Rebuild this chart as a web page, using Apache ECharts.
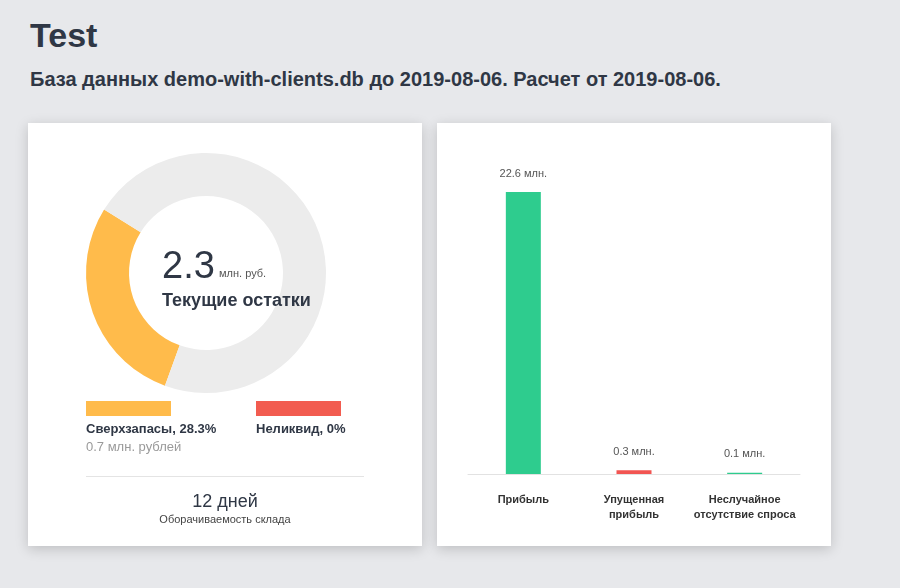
<!DOCTYPE html>
<html>
<head>
<meta charset="utf-8">
<script src="https://cdn.jsdelivr.net/npm/echarts@6/dist/echarts.min.js"></script>
<style>
  body { margin: 0; background: #e7e8eb; font-family: "Liberation Sans", Arial, sans-serif; color: #2f3745; }
  .page { position: relative; width: 900px; height: 588px; overflow: hidden; }
  h1 { position: absolute; left: 30px; top: 18px; margin: 0; font-size: 34px; line-height: 34px; font-weight: bold; }
  h2 { position: absolute; left: 30px; top: 69px; margin: 0; font-size: 20px; line-height: 20px; font-weight: bold; }
  .card { position: absolute; top: 123px; width: 394px; height: 423px; background: #fff; box-shadow: 0 3px 12px rgba(0,0,0,0.18); }
  .chart { position: absolute; left: 0; top: 0; width: 394px; height: 423px; }
  .t { position: absolute; white-space: nowrap; line-height: 1; }
  .swatch { position: absolute; width: 85px; height: 15px; top: 278px; }
  .divider { position: absolute; left: 58px; width: 278px; top: 353px; height: 1px; background: #e4e4e4; }
</style>
</head>
<body>
<div class="page">
  <h1>Test</h1>
  <h2>База данных demo-with-clients.db до 2019-08-06. Расчет от 2019-08-06.</h2>

  <div class="card" style="left:28px">
    <div class="chart" id="pie"></div>
    <span class="t" style="left:134px; top:123px; font-size:38px; color:#2f3745">2.3</span>
    <span class="t" style="left:191px; top:145px; font-size:11px; color:#555">млн. руб.</span>
    <span class="t" style="left:134px; top:168px; font-size:18px; font-weight:bold; color:#2f3745">Текущие остатки</span>

    <div class="swatch" id="sw0" style="left:58px"></div>
    <div class="swatch" id="sw1" style="left:228px"></div>
    <span class="t" style="left:58px; top:299px; font-size:13px; font-weight:bold; color:#2f3745">Сверхзапасы, 28.3%</span>
    <span class="t" style="left:58px; top:317px; font-size:13px; color:#9a9a9a">0.7 млн. рублей</span>
    <span class="t" style="left:228px; top:299px; font-size:13px; font-weight:bold; color:#2f3745">Неликвид, 0%</span>

    <div class="divider"></div>
    <span class="t" style="left:0; width:394px; text-align:center; top:369px; font-size:18px; color:#2f3745">12 дней</span>
    <span class="t" style="left:0; width:394px; text-align:center; top:391px; font-size:11px; color:#444">Оборачиваемость склада</span>
  </div>

  <div class="card" style="left:437px">
    <div class="chart" id="bar"></div>
  </div>
</div>
<script>
// доли остатков (%)
const stockNames = ['Сверхзапасы', 'Остальное'];
const stockShare = [28.3, 71.7];
const stockColors = ['#ffbb4b', '#ececec'];
const illiquidColor = '#f25c50';

// финансовые показатели, млн.
const barCategories = ['Прибыль', 'Упущенная\nприбыль', 'Неслучайное\nотсутствие спроса'];
const barValues = [22.6, 0.3, 0.1];
const barColors = ['#2ecc8e', '#f25552', '#2ecc8e'];

document.getElementById('sw0').style.background = stockColors[0];
document.getElementById('sw1').style.background = illiquidColor;

const pie = echarts.init(document.getElementById('pie'));
pie.setOption({
    animation: false,
    series: [{
        type: 'pie',
        silent: true,
        center: [178, 150],
        radius: [77, 120],
        startAngle: 250,
        label: { show: false },
        labelLine: { show: false },
        data: stockNames.map((n, i) => ({ name: n, value: stockShare[i], itemStyle: { color: stockColors[i] } }))
    }]
});

const bar = echarts.init(document.getElementById('bar'));
bar.setOption({
    animation: false,
    grid: { left: 31, right: 31, top: 69, bottom: 72 },
    xAxis: {
        type: 'category',
        data: barCategories,
        axisLine: { lineStyle: { color: '#e2e2e2' } },
        axisTick: { show: false },
        axisLabel: {
            interval: 0,
            margin: 18,
            color: '#333',
            fontSize: 11,
            fontWeight: 'bold',
            lineHeight: 15,
            fontFamily: 'Liberation Sans'
        }
    },
    yAxis: {
        type: 'value',
        min: 0,
        max: 'dataMax',
        show: false
    },
    series: [{
        type: 'bar',
        barWidth: 35,
        data: barValues.map((v, i) => ({ value: v, itemStyle: { color: barColors[i] } })),
        label: {
            show: true,
            position: 'top',
            distance: 13,
            color: '#555',
            fontSize: 11,
            fontFamily: 'Liberation Sans',
            formatter: p => p.value + ' млн.'
        }
    }]
});
</script>
</body>
</html>
